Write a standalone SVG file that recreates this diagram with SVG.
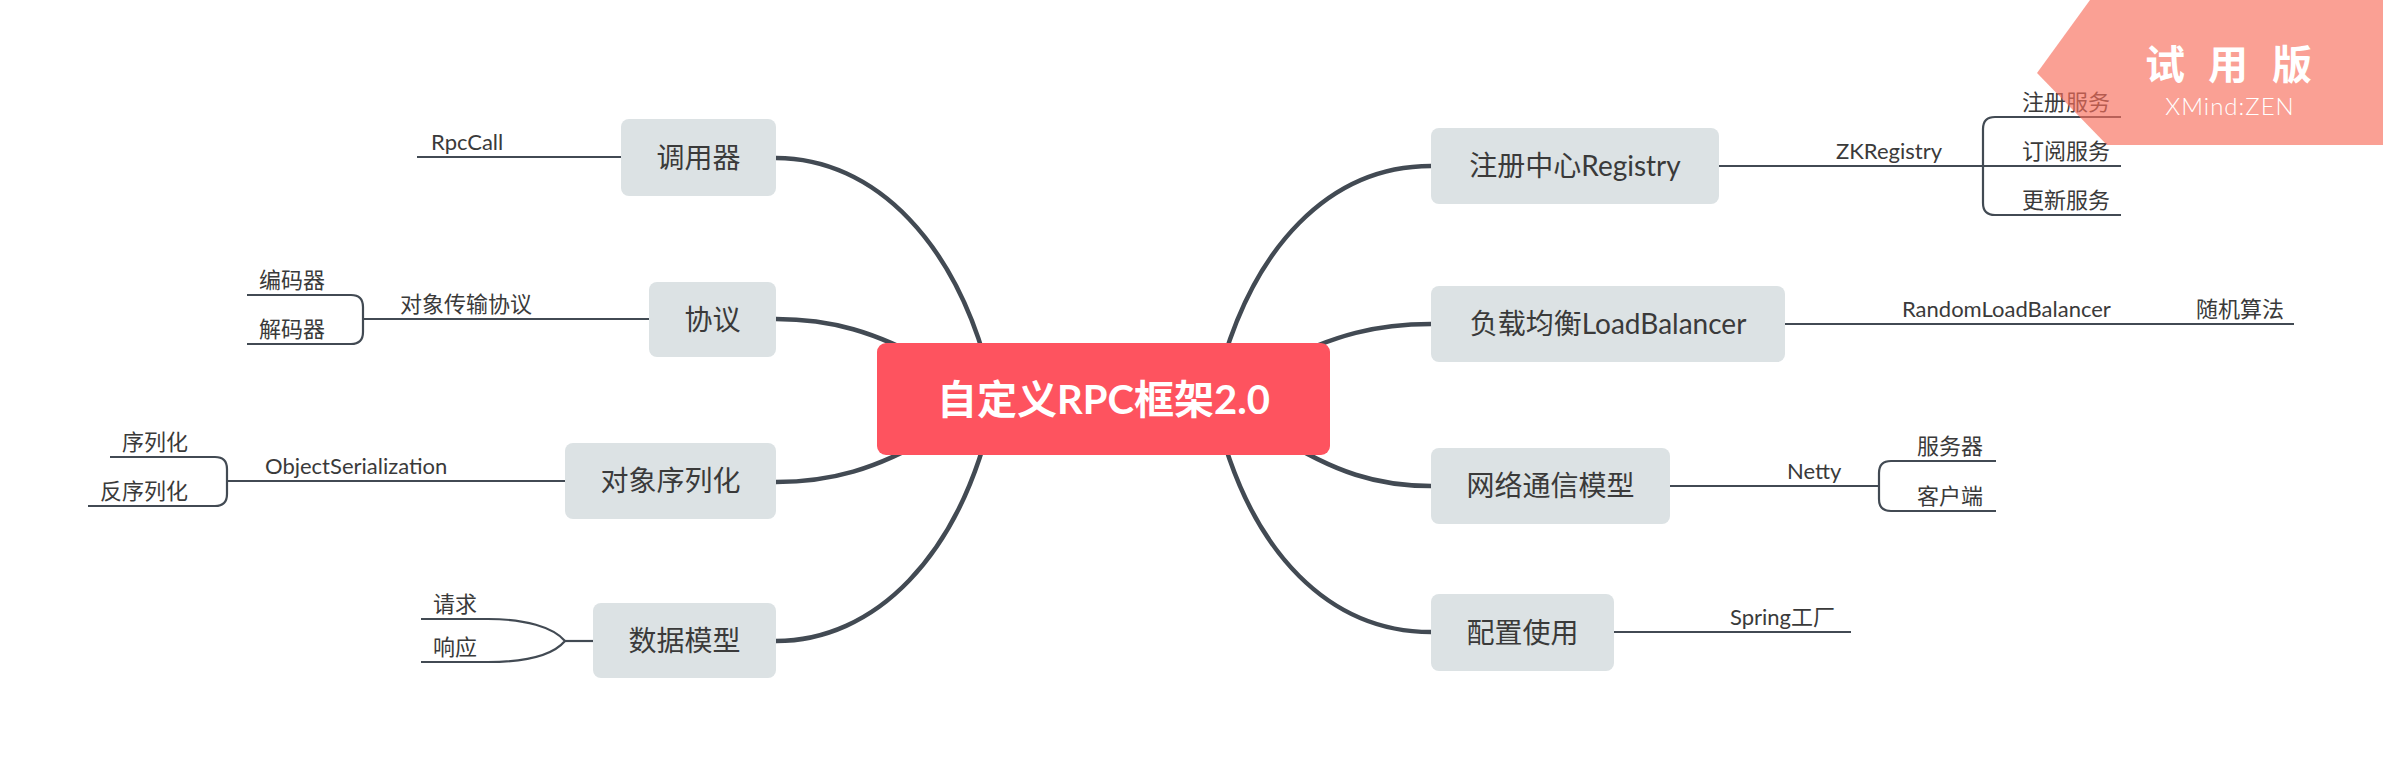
<svg xmlns="http://www.w3.org/2000/svg" width="2383" height="767" viewBox="0 0 2383 767">
<style>
.bg{fill:#ffffff}
.main{fill:none;stroke:#424a53;stroke-width:4.5;stroke-linecap:round}
.sub{fill:none;stroke:#424a53;stroke-width:2.2}
.topic{fill:#dce2e4}
.ttext{font-family:Lato,"Noto Sans CJK SC",sans-serif;font-size:28px;fill:#3a3a3a;text-anchor:middle}
.ltext{font-family:Lato,"Noto Sans CJK SC",sans-serif;font-size:22px;fill:#3a3a3a}
.ctext{font-family:Lato,"Noto Sans CJK SC",sans-serif;font-size:40px;font-weight:700;fill:#ffffff;text-anchor:middle}
</style>
<rect class="bg" x="0" y="0" width="2383" height="767"/>
<g id="connectors">
  <path class="main" d="M776,158 C872,158 962,240 995,400"/>
  <path class="main" d="M776,319 C830,319 875,331 935,365"/>
  <path class="main" d="M776,482 C830,482 875,470 935,435"/>
  <path class="main" d="M776,641 C872,641 962,560 995,400"/>
  <path class="main" d="M1431,166 C1335,166 1248,240 1213,400"/>
  <path class="main" d="M1431,324 C1378,324 1335,334 1275,365"/>
  <path class="main" d="M1431,486 C1378,486 1335,473 1275,435"/>
  <path class="main" d="M1431,632 C1335,632 1248,560 1213,400"/>
  <path class="sub" d="M417,157 H621"/>
  <path class="sub" d="M363,319 H649"/>
  <path class="sub" d="M247,295 H351 Q363,295 363,307 V332 Q363,344 351,344 H247"/>
  <path class="sub" d="M227,481 H565"/>
  <path class="sub" d="M110,457 H215 Q227,457 227,469 V494 Q227,506 215,506 H88"/>
  <path class="sub" d="M565,641 H593"/>
  <path class="sub" d="M421,619 H488 C525,619 553,627 565,641 C553,655 525,662 488,662 H421"/>
  <path class="sub" d="M1719,166 H2121"/>
  <path class="sub" d="M2121,117 H1995 Q1983,117 1983,129 V203 Q1983,215 1995,215 H2121"/>
  <path class="sub" d="M1785,324 H2294"/>
  <path class="sub" d="M1670,486 H1879"/>
  <path class="sub" d="M1996,461 H1891 Q1879,461 1879,473 V499 Q1879,511 1891,511 H1996"/>
  <path class="sub" d="M1614,632 H1851"/>
</g>
<g id="center">
  <rect x="877" y="343" width="453" height="112" rx="9" fill="#fe535f"/>
  <text class="ctext" x="1103.5" y="414">自定义RPC框架2.0</text>
</g>
<g id="n-diaoyongqi">
  <rect class="topic" x="621" y="119" width="155" height="77" rx="8"/>
  <text class="ttext" x="698.5" y="167.5">调用器</text>
</g>
<g id="n-xieyi">
  <rect class="topic" x="649" y="282" width="127" height="75" rx="8"/>
  <text class="ttext" x="712.5" y="329.5">协议</text>
</g>
<g id="n-xuliehua">
  <rect class="topic" x="565" y="443" width="211" height="76" rx="8"/>
  <text class="ttext" x="670.5" y="491">对象序列化</text>
</g>
<g id="n-shuju">
  <rect class="topic" x="593" y="603" width="183" height="75" rx="8"/>
  <text class="ttext" x="684.5" y="650.5">数据模型</text>
</g>
<g id="n-registry">
  <rect class="topic" x="1431" y="128" width="288" height="76" rx="8"/>
  <text class="ttext" x="1575" y="176">注册中心Registry</text>
</g>
<g id="n-lb">
  <rect class="topic" x="1431" y="286" width="354" height="76" rx="8"/>
  <text class="ttext" x="1608" y="334">负载均衡LoadBalancer</text>
</g>
<g id="n-net">
  <rect class="topic" x="1431" y="448" width="239" height="76" rx="8"/>
  <text class="ttext" x="1550.5" y="496">网络通信模型</text>
</g>
<g id="n-config">
  <rect class="topic" x="1431" y="594" width="183" height="77" rx="8"/>
  <text class="ttext" x="1522.5" y="642.5">配置使用</text>
</g>
<g id="n-rpccall"><text class="ltext" x="431" y="150">RpcCall</text></g>
<g id="n-protocol"><text class="ltext" x="400" y="312">对象传输协议</text></g>
<g id="n-encoder"><text class="ltext" x="259" y="288">编码器</text></g>
<g id="n-decoder"><text class="ltext" x="259" y="337">解码器</text></g>
<g id="n-objser"><text class="ltext" x="265" y="474">ObjectSerialization</text></g>
<g id="n-ser"><text class="ltext" x="122" y="450">序列化</text></g>
<g id="n-deser"><text class="ltext" x="100" y="499">反序列化</text></g>
<g id="n-req"><text class="ltext" x="433" y="612">请求</text></g>
<g id="n-resp"><text class="ltext" x="433" y="655">响应</text></g>
<g id="n-zk"><text class="ltext" x="1836" y="159">ZKRegistry</text></g>
<g id="n-reg"><text class="ltext" x="2022" y="110">注册服务</text></g>
<g id="n-sub"><text class="ltext" x="2022" y="159">订阅服务</text></g>
<g id="n-upd"><text class="ltext" x="2022" y="208">更新服务</text></g>
<g id="n-random"><text class="ltext" x="1902" y="317">RandomLoadBalancer</text></g>
<g id="n-algo"><text class="ltext" x="2196" y="317">随机算法</text></g>
<g id="n-netty"><text class="ltext" x="1787" y="479">Netty</text></g>
<g id="n-server"><text class="ltext" x="1917" y="454">服务器</text></g>
<g id="n-client"><text class="ltext" x="1917" y="504">客户端</text></g>
<g id="n-spring"><text class="ltext" x="1730" y="625">Spring工厂</text></g>
<g id="watermark">
  <polygon points="2090,0 2383,0 2383,145 2107,145 2037,73" fill="#f76d5a" fill-opacity="0.65"/>
  <text x="2145 2185 2208 2248 2272" y="79" font-family="'Noto Sans CJK SC',sans-serif" font-size="40" font-weight="700" fill="#ffffff">试 用 版</text>
  <text x="2230" y="115" font-family="Lato,sans-serif" font-size="24" font-weight="300" letter-spacing="1" fill="#ffffff" text-anchor="middle">XMind:ZEN</text>
</g>
</svg>
